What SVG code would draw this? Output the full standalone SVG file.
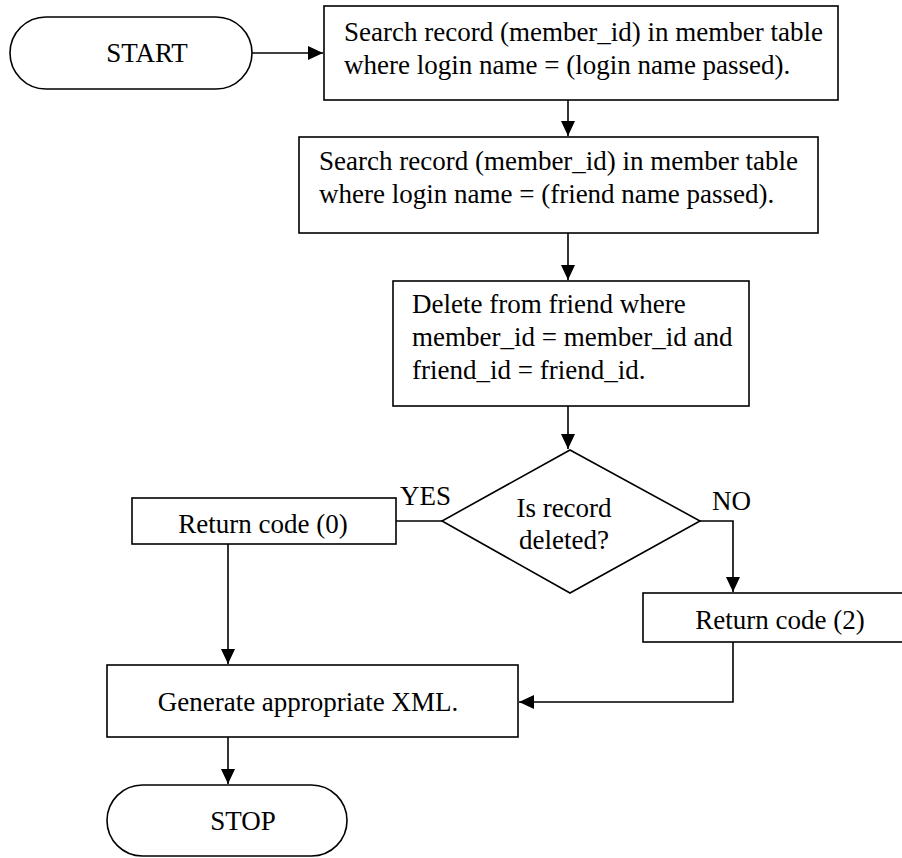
<svg xmlns="http://www.w3.org/2000/svg" width="902" height="858" viewBox="0 0 902 858">
  <style>
    .shape { fill: #ffffff; stroke: #000000; stroke-width: 1.6; }
    .edge { fill: none; stroke: #000000; stroke-width: 1.6; }
    .label { font-family: "Liberation Serif", "Times New Roman", serif; font-size: 27px; fill: #000000; }
    .mid { text-anchor: middle; }
  </style>
  <defs>
    <marker id="arrow" viewBox="0 0 15 14" refX="15" refY="7" markerWidth="15" markerHeight="14" markerUnits="userSpaceOnUse" orient="auto">
      <path d="M0,0 L15,7 L0,14 Z" fill="#000000"/>
    </marker>
  </defs>
  <rect width="902" height="858" fill="#ffffff"/>

  <g id="connectors">
    <path class="edge" d="M252,53 H323" marker-end="url(#arrow)"/>
    <path class="edge" d="M568,100 V136" marker-end="url(#arrow)"/>
    <path class="edge" d="M568,233 V280" marker-end="url(#arrow)"/>
    <path class="edge" d="M568,406 V449" marker-end="url(#arrow)"/>
    <path class="edge" d="M442,521 H396"/>
    <path class="edge" d="M228,544 V664" marker-end="url(#arrow)"/>
    <path class="edge" d="M700,521 H733 V592" marker-end="url(#arrow)"/>
    <path class="edge" d="M733,642 V702 H519" marker-end="url(#arrow)"/>
    <path class="edge" d="M228,737 V784" marker-end="url(#arrow)"/>
  </g>

  <g id="start">
    <rect class="shape" x="10" y="17" width="242" height="72" rx="36" ry="36"/>
    <text class="label mid" x="147" y="62">START</text>
  </g>

  <g id="find-member">
    <rect class="shape" x="324" y="6" width="514" height="94"/>
    <text class="label" x="344" y="41">Search record (member_id) in member table</text>
    <text class="label" x="344" y="74">where login name = (login name passed).</text>
  </g>

  <g id="find-friend">
    <rect class="shape" x="299" y="137" width="519" height="96"/>
    <text class="label" x="319" y="170">Search record (member_id) in member table</text>
    <text class="label" x="319" y="203">where login name = (friend name passed).</text>
  </g>

  <g id="delete-friend">
    <rect class="shape" x="393" y="281" width="356" height="125"/>
    <text class="label" x="412" y="313">Delete from friend where</text>
    <text class="label" x="412" y="346">member_id = member_id and</text>
    <text class="label" x="412" y="379">friend_id = friend_id.</text>
  </g>

  <g id="is-deleted">
    <path class="shape" d="M570,450 L700,521 L570,593 L442,521 Z"/>
    <text class="label mid" x="564" y="517">Is record</text>
    <text class="label mid" x="564" y="549">deleted?</text>
    <text class="label" x="400" y="505">YES</text>
    <text class="label" x="712" y="510">NO</text>
  </g>

  <g id="return-0">
    <rect class="shape" x="132" y="498" width="264" height="46"/>
    <text class="label mid" x="263" y="533">Return code (0)</text>
  </g>

  <g id="return-2">
    <rect class="shape" x="643" y="593" width="274" height="49"/>
    <text class="label mid" x="780" y="629">Return code (2)</text>
  </g>

  <g id="generate-xml">
    <rect class="shape" x="107" y="665" width="411" height="72"/>
    <text class="label mid" x="308" y="711">Generate appropriate XML.</text>
  </g>

  <g id="stop">
    <rect class="shape" x="107" y="785" width="240" height="71" rx="35.5" ry="35.5"/>
    <text class="label mid" x="243" y="830">STOP</text>
  </g>
</svg>
